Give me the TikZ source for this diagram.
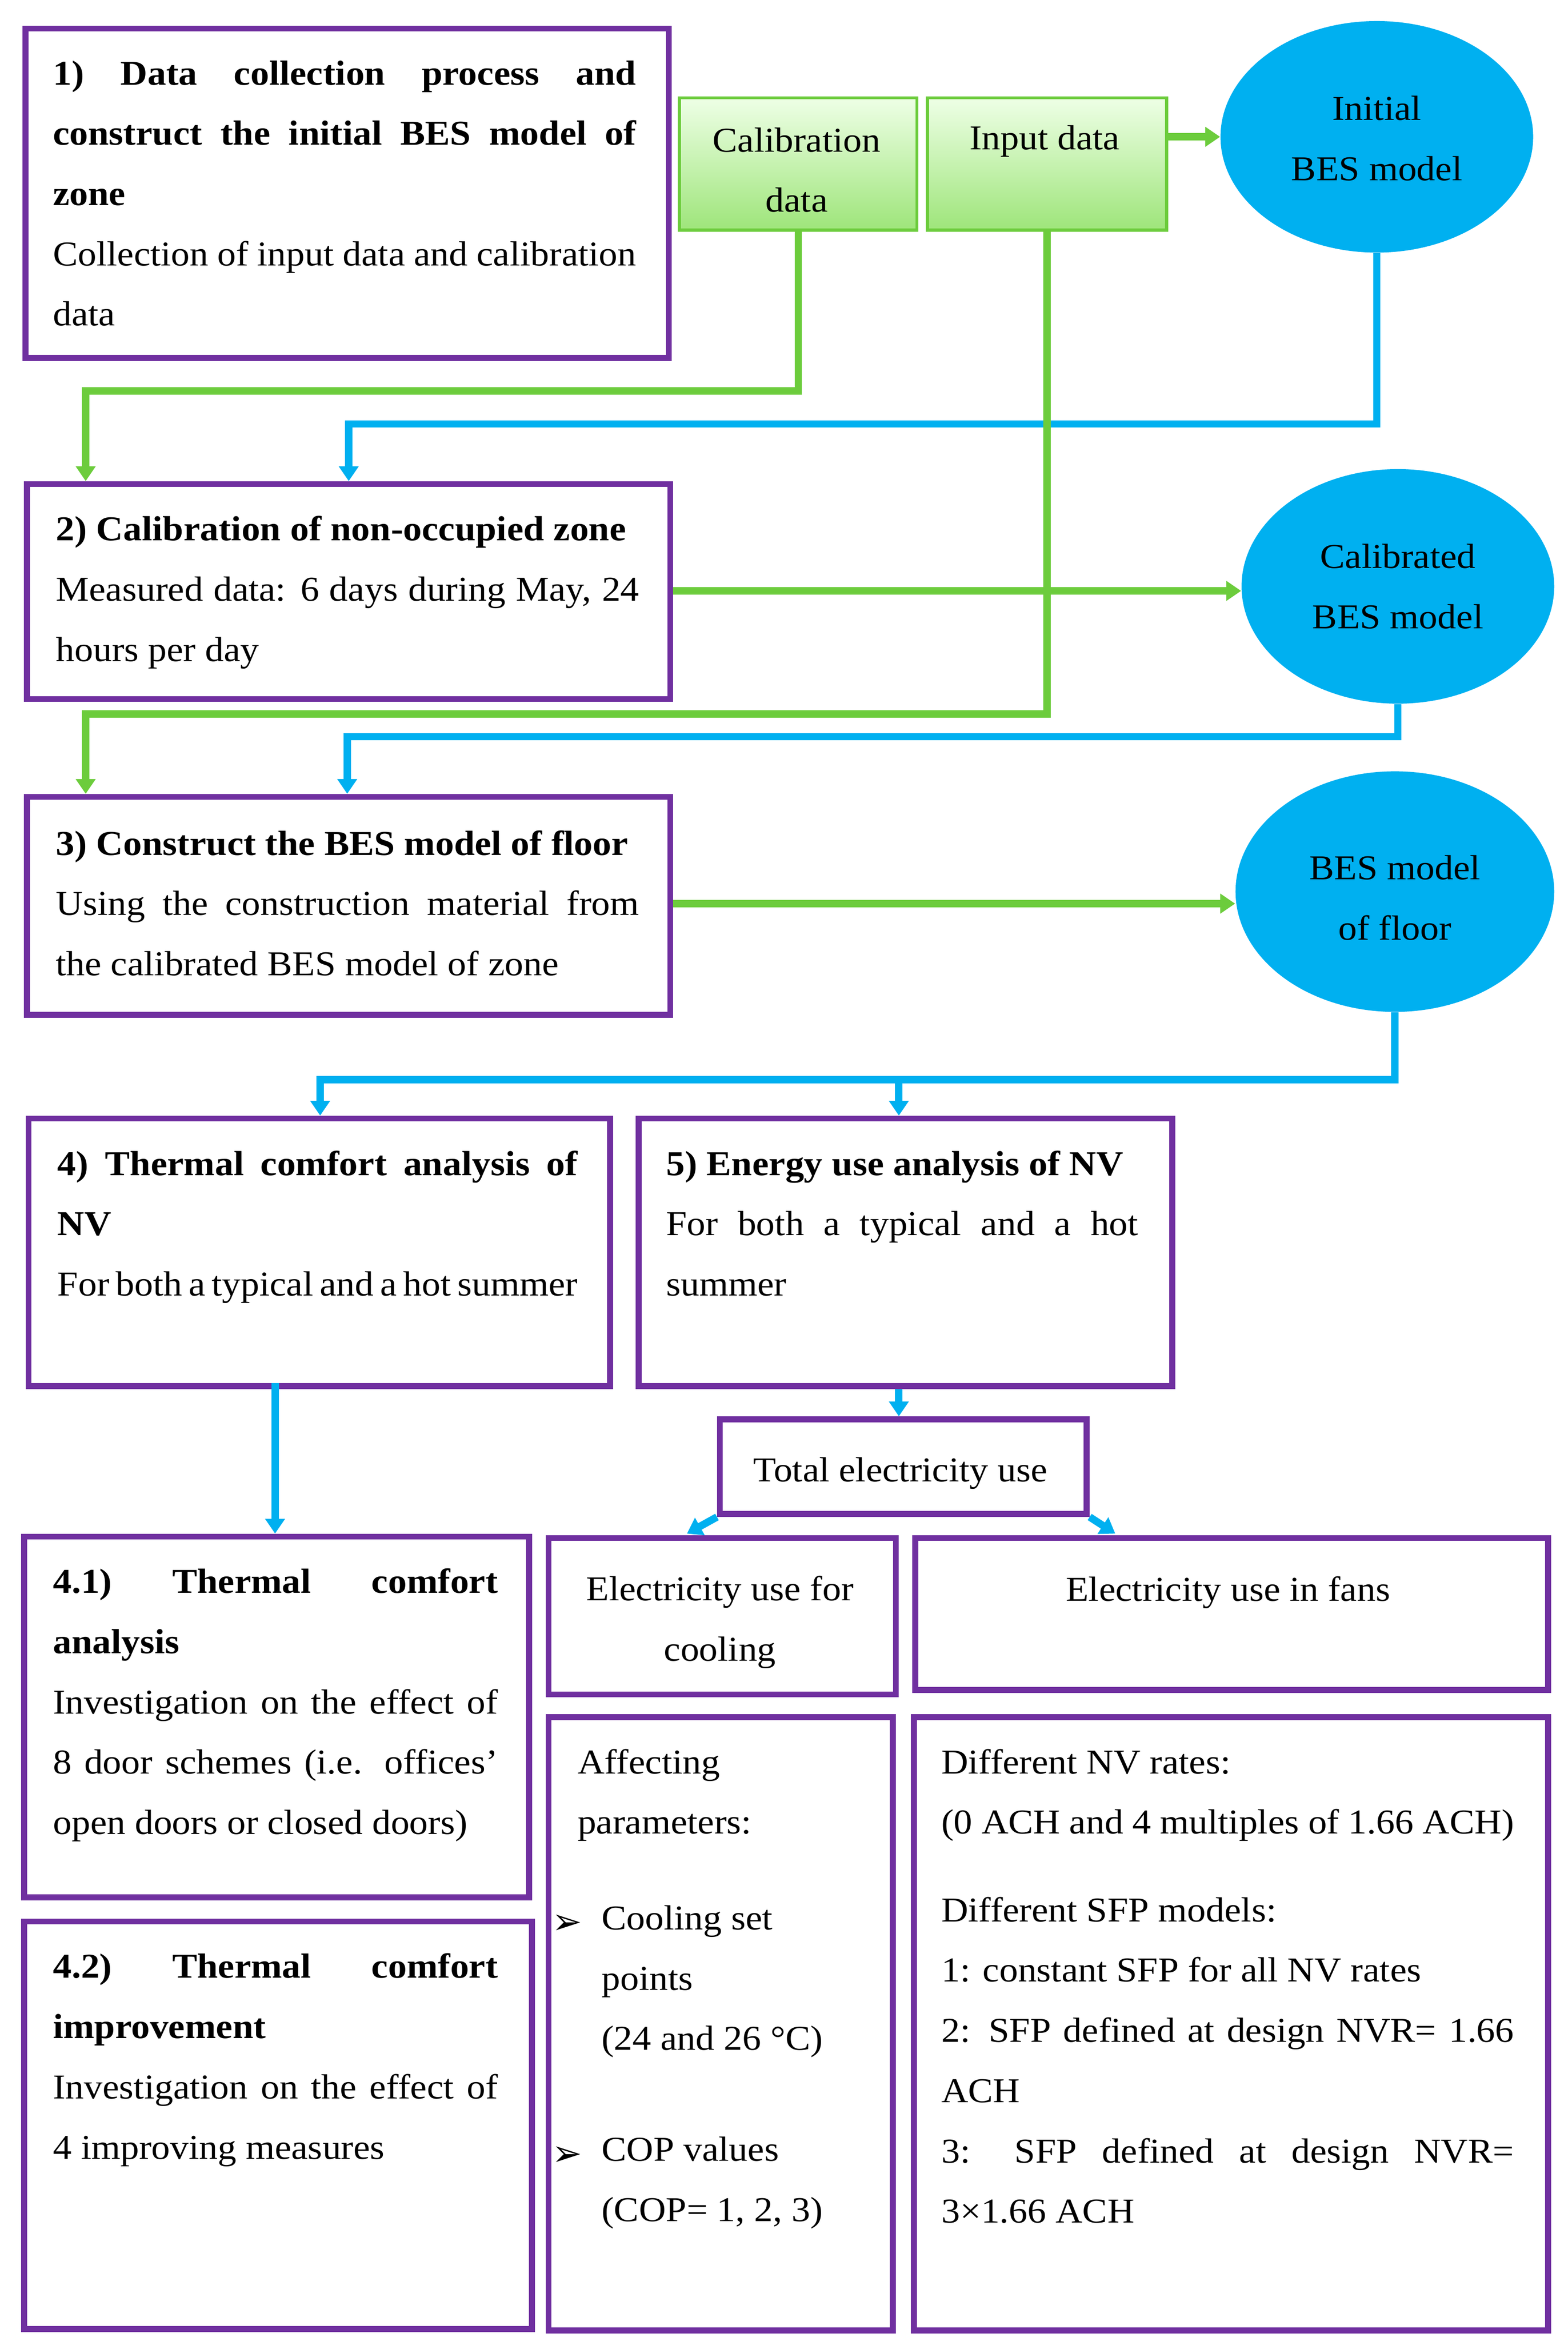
\documentclass[tikz,border=0pt]{standalone}
\usepackage{fontspec}
\setmainfont{Liberation Serif}[FakeStretch=1.07]
\newfontfamily\djv{DejaVu Sans}
\usetikzlibrary{shapes.geometric,arrows.meta}
\definecolor{pur}{HTML}{7030A0}
\definecolor{blu}{HTML}{00B0F0}
\definecolor{grn}{HTML}{6CCC3C}
\definecolor{gtop}{HTML}{EEFFE6}
\definecolor{gbot}{HTML}{9EE57A}
\hyphenpenalty=10000
\exhyphenpenalty=10000
\tolerance=9999
\emergencystretch=20pt
\newcommand\bx[5]{\node[box,minimum width={(#4-#2)*0.025cm},minimum height={(#5-#3)*0.025cm}] (#1) at (#2,-#3) {};}
\begin{document}
\begin{tikzpicture}[x=0.025cm,y=0.025cm,
 box/.style={draw=pur,line width=2.8pt,anchor=north west,inner sep=0pt},
 gbox/.style={draw=grn,line width=1.5pt,anchor=north west,inner sep=0pt,top color=gtop,bottom color=gbot,align=center},
 ell/.style={ellipse,fill=blu,inner sep=0pt,align=center},
 txt/.style={anchor=north west,inner sep=0pt,align=justify,font=\fontsize{16.5}{28.5}\selectfont},
 ctxt/.style={inner sep=0pt,align=center,font=\fontsize{16.5}{28.5}\selectfont},
 g/.style={draw=grn,line width=3.5pt,-{Triangle[length=7pt,width=9pt]}},
 b/.style={draw=blu,line width=3.5pt,-{Triangle[length=7pt,width=9pt]}}]
\useasboundingbox (0,0) rectangle (1043,-1557);
% boxes
\bx{b1}{15}{17}{443}{236}
\node[txt,text width=388*0.025cm] (b1t) at (35,-40) {\textbf{1) Data collection process and construct the initial BES model of zone}\par Collection of input data and calibration data};
\node[gbox,minimum width=158*0.025cm,minimum height=88*0.025cm] (cal) at (451,-64) {};
\node[ctxt] (calt) at (530,-113) {Calibration\\data};
\node[gbox,minimum width=159*0.025cm,minimum height=88*0.025cm] (inp) at (616,-64) {};
\node[ctxt] (inpt) at (695,-94) {Input data};
\node[ell,minimum width=208*0.025cm,minimum height=154*0.025cm] (e1) at (916,-91) {};
\node[ctxt] (e1t) at (916,-92) {Initial\\BES model};
\bx{b2}{16}{320}{444}{463}
\node[txt,text width=388*0.025cm] (b2t) at (37,-343) {\textbf{2) Calibration of non-occupied zone}\par Measured data: 6 days during May, 24 hours per day};
\node[ell,minimum width=208*0.025cm,minimum height=156*0.025cm] (e2) at (930,-390) {};
\node[ctxt] (e2t) at (930,-390) {Calibrated\\BES model};
\bx{b3}{16}{528}{444}{673}
\node[txt,text width=388*0.025cm] (b3t) at (37,-552) {\textbf{3) Construct the BES model of floor}\par Using the construction material from the calibrated BES model of zone};
\node[ell,minimum width=212*0.025cm,minimum height=160*0.025cm] (e3) at (928,-593) {};
\node[ctxt] (e3t) at (928,-597) {BES model\\of floor};
\bx{b4}{17}{742}{404}{920}
\node[txt,text width=346*0.025cm] (b4t) at (38,-765) {\textbf{4) Thermal comfort analysis of NV}\par For both a typical and a hot summer};
\bx{b5}{423}{742}{778}{920}
\node[txt,text width=314*0.025cm] (b5t) at (443,-765) {\textbf{5) Energy use analysis of NV}\par For both a typical and a hot summer};
\bx{tot}{477}{942}{721}{1005}
\node[ctxt] (tott) at (599,-980) {Total electricity use};
\bx{b41}{14}{1020}{350}{1260}
\node[txt,text width=296*0.025cm] (b41t) at (35,-1043) {\textbf{4.1)\ Thermal comfort analysis}\par Investigation on the effect of 8 door schemes (i.e. offices’ open doors or closed doors)};
\bx{b42}{14}{1276}{352}{1547}
\node[txt,text width=296*0.025cm] (b42t) at (35,-1299) {\textbf{4.2)\ Thermal comfort improvement}\par Investigation on the effect of 4 improving measures};
\bx{cool}{363}{1021}{594}{1125}
\node[ctxt] (coolt) at (479,-1079) {Electricity use for\\cooling};
\bx{fan}{607}{1021}{1028}{1122}
\node[ctxt] (fant) at (817,-1059) {Electricity use in fans};
\bx{aff}{363}{1140}{592}{1548}
\node[txt,align=left] (afft) at (384,-1163) {Affecting\\parameters:};
\node[anchor=west,inner sep=0pt] (bl1) at (367,-1280) {{\djv\fontsize{17}{17}\selectfont ➢}};
\node[txt,align=left] (bt1) at (400,-1267) {Cooling set\\points\\(24 and 26 °C)};
\node[anchor=west,inner sep=0pt] (bl2) at (367,-1434) {{\djv\fontsize{17}{17}\selectfont ➢}};
\node[txt,align=left] (bt2) at (400,-1421) {COP values\\(COP= 1, 2, 3)};
\bx{sfp}{606}{1140}{1028}{1548}
\node[txt,text width=381*0.025cm] (sfpt) at (626,-1163) {Different NV rates:\par (0 ACH and 4 multiples of 1.66 ACH)\par\vspace{13pt}Different SFP models:\par 1: constant SFP for all NV rates\par 2: SFP defined at design NVR= 1.66 ACH\par 3: SFP defined at design NVR= 3×1.66 ACH};
% coordinates
\coordinate (b2g) at (57,-320);
\coordinate (b2b) at (232,-320);
\coordinate (b3g) at (57,-528);
\coordinate (b3b) at (231,-528);
\coordinate (b4b) at (213,-742);
\coordinate (j1) at (598,-718);
\coordinate (b5b) at (598,-742);
\coordinate (b4s) at (183,-920);
\coordinate (b41n) at (183,-1020);
\coordinate (tl) at (457,-1020);
\coordinate (tr) at (742,-1020);
% connectors
\draw[g] (inp.east |- e1) -- (e1.west);
\draw[g] (cal.south) -- (cal.south |- 0,-260) -| (b2g);
\draw[b] (e1.south) -- (e1.south |- 0,-282) -| (b2b);
\draw[g] (b2.east |- 0,-393) -- (e2.west |- 0,-393);
\draw[g] (inp.south) -- (inp.south |- 0,-475) -| (b3g);
\draw[b] (e2.south) -- (e2.south |- 0,-490) -| (b3b);
\draw[g] (b3.east |- 0,-601) -- (e3.west |- 0,-601);
\draw[b] (e3.south) -- (e3.south |- 0,-718) -| (b4b);
\draw[b] (j1) -- (b5b);
\draw[b] (b4s) -- (b41n);
\draw[b] (b5.south -| j1) -- (tot.north -| j1);
\draw[b] (tot.south west) -- (tl);
\draw[b] (tot.south east) -- (tr);
\end{tikzpicture}
\end{document}
